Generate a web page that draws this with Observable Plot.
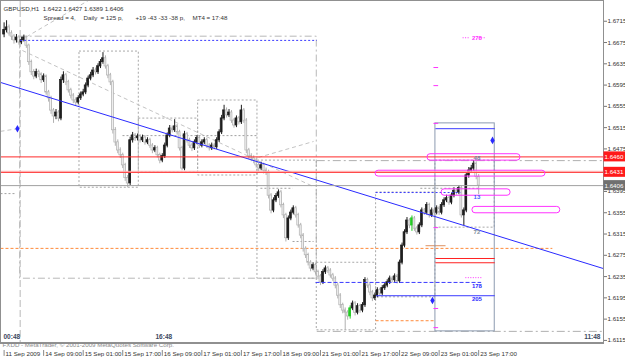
<!DOCTYPE html>
<html><head><meta charset="utf-8">
<script src="https://cdn.jsdelivr.net/npm/d3@7"></script>
<script src="https://cdn.jsdelivr.net/npm/@observablehq/plot@0.6"></script>
<style>html,body{margin:0;padding:0;background:#fff;} svg{display:block;font-family:"Liberation Sans",Arial,sans-serif;}</style>
</head><body><div id="chart"></div>
<script>
// GBPUSD H1 bars, 11 Sep 2009 17:00 .. 23 Sep 2009 17:00 (bar index 0..192)
const open = [1.6690,1.6698,1.6703,1.6692,1.6686,1.6679,1.6684,1.6675,1.6679,1.6684,
1.6669,1.6638,1.6619,1.6611,1.6619,1.6615,1.6604,1.6611,1.6581,1.6570,
1.6547,1.6536,1.6543,1.6532,1.6604,1.6613,1.6600,1.6585,1.6575,1.6566,
1.6562,1.6570,1.6577,1.6581,1.6594,1.6607,1.6613,1.6622,1.6619,1.6630,
1.6638,1.6645,1.6630,1.6613,1.6600,1.6510,1.6487,1.6472,1.6463,1.6444,
1.6420,1.6410,1.6491,1.6500,1.6495,1.6498,1.6491,1.6496,1.6487,1.6491,
1.6481,1.6472,1.6476,1.6463,1.6453,1.6461,1.6481,1.6500,1.6513,1.6510,
1.6517,1.6506,1.6476,1.6438,1.6502,1.6491,1.6481,1.6476,1.6487,1.6495,
1.6481,1.6487,1.6491,1.6481,1.6476,1.6481,1.6478,1.6491,1.6506,1.6532,
1.6547,1.6538,1.6543,1.6528,1.6519,1.6532,1.6525,1.6547,1.6528,1.6472,
1.6461,1.6457,1.6453,1.6444,1.6438,1.6444,1.6434,1.6431,1.6387,1.6359,
1.6378,1.6386,1.6393,1.6369,1.6350,1.6307,1.6344,1.6355,1.6363,1.6350,
1.6331,1.6312,1.6287,1.6275,1.6261,1.6250,1.6256,1.6243,1.6235,1.6224,
1.6243,1.6250,1.6246,1.6237,1.6231,1.6218,1.6199,1.6181,1.6171,1.6167,
1.6160,1.6175,1.6184,1.6167,1.6179,1.6171,1.6181,1.6228,1.6218,1.6205,
1.6194,1.6199,1.6209,1.6203,1.6213,1.6218,1.6224,1.6231,1.6228,1.6235,
1.6226,1.6261,1.6293,1.6318,1.6340,1.6331,1.6344,1.6325,1.6318,1.6331,
1.6359,1.6355,1.6369,1.6350,1.6359,1.6355,1.6363,1.6355,1.6369,1.6378,
1.6382,1.6374,1.6387,1.6396,1.6393,1.6401,1.6350,1.6359,1.6425,1.6434,
1.6438,1.6447,1.6422];
const high = [1.6712,1.6716,1.6708,1.6697,1.6690,1.6690,1.6688,1.6685,1.6689,1.6687,
1.6672,1.6642,1.6624,1.6625,1.6623,1.6618,1.6616,1.6614,1.6585,1.6574,
1.6551,1.6549,1.6547,1.6610,1.6620,1.6617,1.6604,1.6589,1.6579,1.6571,
1.6575,1.6582,1.6587,1.6599,1.6612,1.6619,1.6628,1.6627,1.6635,1.6643,
1.6656,1.6650,1.6634,1.6617,1.6604,1.6515,1.6492,1.6477,1.6467,1.6448,
1.6425,1.6497,1.6506,1.6504,1.6503,1.6502,1.6501,1.6500,1.6496,1.6495,
1.6485,1.6481,1.6480,1.6467,1.6466,1.6486,1.6505,1.6519,1.6518,1.6530,
1.6521,1.6510,1.6480,1.6508,1.6506,1.6495,1.6486,1.6492,1.6500,1.6499,
1.6492,1.6496,1.6495,1.6485,1.6486,1.6485,1.6496,1.6511,1.6538,1.6557,
1.6552,1.6549,1.6547,1.6532,1.6537,1.6536,1.6557,1.6551,1.6532,1.6476,
1.6466,1.6462,1.6457,1.6448,1.6450,1.6448,1.6439,1.6435,1.6391,1.6383,
1.6391,1.6398,1.6397,1.6373,1.6354,1.6349,1.6360,1.6368,1.6367,1.6354,
1.6335,1.6316,1.6291,1.6279,1.6265,1.6261,1.6260,1.6247,1.6239,1.6248,
1.6255,1.6254,1.6250,1.6241,1.6235,1.6222,1.6203,1.6185,1.6176,1.6171,
1.6180,1.6189,1.6188,1.6184,1.6183,1.6186,1.6233,1.6232,1.6222,1.6209,
1.6204,1.6214,1.6213,1.6218,1.6223,1.6229,1.6236,1.6235,1.6240,1.6239,
1.6266,1.6298,1.6323,1.6346,1.6344,1.6349,1.6348,1.6329,1.6336,1.6364,
1.6363,1.6374,1.6373,1.6364,1.6363,1.6368,1.6367,1.6374,1.6383,1.6388,
1.6386,1.6392,1.6402,1.6400,1.6406,1.6405,1.6364,1.6430,1.6440,1.6444,
1.6453,1.6451,1.6427];
const low = [1.6684,1.6693,1.6687,1.6679,1.6672,1.6674,1.6670,1.6671,1.6676,1.6664,
1.6632,1.6613,1.6605,1.6607,1.6609,1.6598,1.6600,1.6576,1.6563,1.6540,
1.6523,1.6530,1.6526,1.6528,1.6598,1.6594,1.6580,1.6569,1.6560,1.6556,
1.6558,1.6566,1.6573,1.6577,1.6590,1.6603,1.6609,1.6614,1.6615,1.6626,
1.6634,1.6625,1.6607,1.6594,1.6503,1.6480,1.6466,1.6457,1.6438,1.6414,
1.6402,1.6406,1.6486,1.6489,1.6490,1.6486,1.6487,1.6482,1.6483,1.6476,
1.6466,1.6468,1.6458,1.6447,1.6449,1.6457,1.6477,1.6496,1.6505,1.6506,
1.6501,1.6471,1.6434,1.6434,1.6486,1.6476,1.6470,1.6472,1.6483,1.6476,
1.6477,1.6483,1.6476,1.6471,1.6472,1.6473,1.6474,1.6487,1.6502,1.6528,
1.6533,1.6534,1.6523,1.6514,1.6515,1.6520,1.6521,1.6523,1.6466,1.6455,
1.6451,1.6447,1.6439,1.6432,1.6434,1.6428,1.6425,1.6381,1.6353,1.6355,
1.6374,1.6382,1.6364,1.6344,1.6300,1.6303,1.6340,1.6351,1.6345,1.6326,
1.6306,1.6281,1.6269,1.6255,1.6244,1.6246,1.6238,1.6229,1.6218,1.6220,
1.6239,1.6241,1.6232,1.6226,1.6212,1.6193,1.6175,1.6165,1.6134,1.6153,
1.6155,1.6171,1.6161,1.6163,1.6166,1.6167,1.6177,1.6213,1.6199,1.6188,
1.6190,1.6195,1.6198,1.6199,1.6209,1.6214,1.6220,1.6223,1.6224,1.6221,
1.6222,1.6257,1.6289,1.6314,1.6325,1.6320,1.6320,1.6313,1.6314,1.6327,
1.6350,1.6351,1.6345,1.6346,1.6350,1.6351,1.6350,1.6351,1.6365,1.6374,
1.6369,1.6370,1.6383,1.6388,1.6389,1.6345,1.6331,1.6355,1.6420,1.6429,
1.6433,1.6417,1.6389];
const close = [1.6698,1.6703,1.6692,1.6686,1.6679,1.6684,1.6675,1.6679,1.6684,1.6669,
1.6638,1.6619,1.6611,1.6619,1.6615,1.6604,1.6611,1.6581,1.6570,1.6547,
1.6536,1.6543,1.6532,1.6604,1.6613,1.6600,1.6585,1.6575,1.6566,1.6562,
1.6570,1.6577,1.6581,1.6594,1.6607,1.6613,1.6622,1.6619,1.6630,1.6638,
1.6645,1.6630,1.6613,1.6600,1.6510,1.6487,1.6472,1.6463,1.6444,1.6420,
1.6410,1.6491,1.6500,1.6495,1.6498,1.6491,1.6496,1.6487,1.6491,1.6481,
1.6472,1.6476,1.6463,1.6453,1.6461,1.6481,1.6500,1.6513,1.6510,1.6517,
1.6506,1.6476,1.6438,1.6502,1.6491,1.6481,1.6476,1.6487,1.6495,1.6481,
1.6487,1.6491,1.6481,1.6476,1.6481,1.6478,1.6491,1.6506,1.6532,1.6547,
1.6538,1.6543,1.6528,1.6519,1.6532,1.6525,1.6547,1.6528,1.6472,1.6461,
1.6457,1.6453,1.6444,1.6438,1.6444,1.6434,1.6431,1.6387,1.6359,1.6378,
1.6386,1.6393,1.6369,1.6350,1.6307,1.6344,1.6355,1.6363,1.6350,1.6331,
1.6312,1.6287,1.6275,1.6261,1.6250,1.6256,1.6243,1.6235,1.6224,1.6243,
1.6250,1.6246,1.6237,1.6231,1.6218,1.6199,1.6181,1.6171,1.6167,1.6160,
1.6175,1.6184,1.6167,1.6179,1.6171,1.6181,1.6228,1.6218,1.6205,1.6194,
1.6199,1.6209,1.6203,1.6213,1.6218,1.6224,1.6231,1.6228,1.6235,1.6226,
1.6261,1.6293,1.6318,1.6340,1.6331,1.6344,1.6325,1.6318,1.6331,1.6359,
1.6355,1.6369,1.6350,1.6359,1.6355,1.6363,1.6355,1.6369,1.6378,1.6382,
1.6374,1.6387,1.6396,1.6393,1.6401,1.6350,1.6359,1.6425,1.6434,1.6438,
1.6447,1.6422,1.6406];
const greenBars = [140, 165];

// axis ticks (1.6435 is hidden behind the 1.6431 price tag in the original)
const xTickIndex = [0,16,32,48,64,80,96,112,128,144,160,176,192];
const xTickLabels = ["11 Sep 2009","14 Sep 09:00","15 Sep 01:00","15 Sep 17:00","16 Sep 09:00","17 Sep 01:00","17 Sep 17:00","18 Sep 09:00","21 Sep 01:00","21 Sep 17:00","22 Sep 09:00","23 Sep 01:00","23 Sep 17:00"];
const yTicks = [1.6715,1.6675,1.6635,1.6595,1.6555,1.6515,1.6475,1.6395,1.6355,1.6315,1.6275,1.6235,1.6195,1.6155,1.6115];

// levels and objects (bar index, price)
const redLevels = [1.6460, 1.6431];
const bidPrice = 1.6406;
const trendLine = [{i:-1.456, p:1.6600}, {i:242.5, p:1.6250}];
const weekBox = [{i1:6.5, i2:126.5, p1:1.6231, p2:1.6686}];
const dayBoxes = [
  {i1:30.5, i2:54.5, p1:1.6402, p2:1.6658},
  {i1:54.5, i2:78.5, p1:1.6431, p2:1.6532},
  {i1:78.5, i2:102.5, p1:1.6425, p2:1.6566},
  {i1:102.5, i2:126.5, p1:1.6231, p2:1.6453},
  {i1:126.5, i2:150.5, p1:1.6134, p2:1.6261},
  {i1:150.5, i2:174.5, p1:1.6196, p2:1.6393},
  {i1:174.5, i2:198.5, p1:1.6327, p2:1.6453}
];
const diagLines = [
  {i1:7.4, p1:1.6660, i2:125.2, p2:1.6404},
  {i1:6.6, p1:1.6679, i2:34.1, p2:1.6754},
  {i1:102.9, p1:1.6459, i2:125.2, p2:1.6489},
  {i1:-1.46, p1:1.6508, i2:5.4, p2:1.6513}
];
const dottedGray = [
  {i1:47.9, i2:102.9, p:1.6500},
  {i1:103.7, i2:116.7, p:1.6401},
  {i1:116.7, i2:125.2, p:1.6301},
  {i1:168.4, i2:192.7, p:1.6401},
  {i1:-1.46, i2:4.6, p:1.6391}
];
const dashDotGray = [
  {i1:126.5, i2:242.5, p:1.6453},
  {i1:126.5, i2:242.0, p:1.6132}
];
const orangeDotted = [
  {i1:-1.46, i2:221.8, p:1.6288},
  {i1:150.3, i2:174.5, p:1.6152}
];
const orangeSolid = [{i1:170.5, i2:178.6, p:1.6293}];
const blueSolid = [
  {i1:174.5, i2:198.5, p:1.6513},
  {i1:150.5, i2:198.5, p:1.6199}
];
const blueDashed = [{i1:126.0, i2:193.0, p:1.6224}];
const blueDotted = [
  {i1:6.5, i2:126.5, p:1.6679},
  {i1:150.3, i2:184.6, p:1.6393}
];
const redShort = [
  {i1:174.5, i2:198.5, p:1.6269},
  {i1:174.5, i2:198.5, p:1.6261}
];
const rangeRect = [{i1:174.5, i2:198.5, p1:1.6132, p2:1.6523}];
const pills = [
  {i1:171.3, i2:208.9, p1:1.6453, p2:1.6465},
  {i1:150.3, i2:219.0, p1:1.6423, p2:1.6434},
  {i1:177.0, i2:204.9, p1:1.6387, p2:1.6399},
  {i1:189.5, i2:225.0, p1:1.6354, p2:1.6366}
];
const magentaTicks = [1.6628, 1.6594, 1.6523, 1.6327, 1.6175, 1.6139];
const magentaDotted = [
  {i1:186.6, i2:193.5, p:1.6233},
  {i1:185.5, i2:188.2, p:1.6684},
  {i1:192.0, i2:194.7, p:1.6684}
];
const diamonds = [{i:5.4, p:1.6513}, {i:173.3, p:1.6190}, {i:197.6, p:1.6491}];
const objLabels = [
  {i:191.3, p:1.6684, t:"278", c:"#ff33ff"},
  {i:191.3, p:1.6458, t:"48", c:"#7080a0"},
  {i:191.3, p:1.6385, t:"13", c:"#4060ff"},
  {i:191.3, p:1.6319, t:"72", c:"#8090a0"},
  {i:191.3, p:1.6218, t:"178", c:"#2a2aff"},
  {i:191.3, p:1.6193, t:"205", c:"#2a2aff"}
];
const timeLabels = [
  {anchor:"bottom-left", dx:3, t:"00:48", a:"start"},
  {anchor:"bottom-left", dx:155, t:"16:48", a:"start"},
  {anchor:"bottom-right", dx:-3, t:"11:48", a:"end"}
];
const priceTags = [
  {p:1.6460, t:"1.6460", c:"#ff1a1a"},
  {p:1.6431, t:"1.6431", c:"#ff1a1a"},
  {p:1.6406, t:"1.6406", c:"#707070"}
];
const infoLine1 = "GBPUSD,H1  1.6422 1.6427 1.6389 1.6406";
const infoLine2 = [
  {dx:43, t:"Spread = 4,"}, {dx:83, t:"Daily"}, {dx:100, t:"= 125 p,"},
  {dx:135, t:"+19 -43 -33 -38 p,"}, {dx:192, t:"MT4"}, {dx:206, t:"= 17:48"}
];
const caption = "FXDD - MetaTrader, © 2001-2009 MetaQuotes Software Corp.";

const bars = close.map((c, i) => ({i, o: open[i], h: high[i], l: low[i], c}));
const strokeOf = d => greenBars.includes(d.i) ? "#22cc22" : d.c >= d.o ? "#1e1e1e" : "#b0b0b0";
const fillOf = d => greenBars.includes(d.i) ? "#22cc22" : d.c >= d.o ? "#1e1e1e" : "#f2f2f2";
const seg = (data, opts) => Plot.link(data, {x1: "i1", x2: "i2", y1: "p", y2: "p", ...opts});
const fs = 6.2;
const tagH = 0.00094;

const chart = Plot.plot({
  width: 625, height: 361,
  marginLeft: 0, marginRight: 22, marginTop: 0, marginBottom: 18,
  x: {domain: [-1.456, 242.5], axis: null},
  y: {domain: [1.61092, 1.6754], axis: null},
  style: {fontFamily: "Liberation Sans, Arial, sans-serif", fontSize: fs + "px", background: "#fff"},
  marks: [
    // weekly and daily boxes
    Plot.rect(weekBox, {x1:"i1", x2:"i2", y1:"p1", y2:"p2", fill:"none", stroke:"#b8b8b8", strokeDasharray:"7,3,2,3"}),
    Plot.ruleX([6.5], {stroke:"#b8b8b8", strokeDasharray:"7,3"}),
    Plot.rect(dayBoxes, {x1:"i1", x2:"i2", y1:"p1", y2:"p2", fill:"none", stroke:"#a8a8a8", strokeDasharray:"2,2"}),
    Plot.link(diagLines, {x1:"i1", x2:"i2", y1:"p1", y2:"p2", stroke:"#c4c4c4", strokeDasharray:"4,3"}),
    seg(dottedGray, {stroke:"#a0a0a0", strokeDasharray:"2,2"}),
    seg(dashDotGray, {stroke:"#b0b0b0", strokeDasharray:"8,3,2,3"}),
    seg(orangeDotted, {stroke:"#ff8a3a", strokeDasharray:"3,2"}),
    seg(orangeSolid, {stroke:"#dd9060"}),
    Plot.rect(rangeRect, {x1:"i1", x2:"i2", y1:"p1", y2:"p2", fill:"none", stroke:"#8c9bb0"}),
    // candles
    Plot.ruleX(bars, {x:"i", y1:"l", y2:"h", stroke: strokeOf, strokeWidth: 1}),
    Plot.rect(bars, {x1: d => d.i - 0.38, x2: d => d.i + 0.38, y1: d => Math.min(d.o, d.c), y2: d => Math.max(d.o, d.c) + 0.00004, fill: fillOf, stroke: strokeOf, strokeWidth: 0.7}),
    // lines
    Plot.line(trendLine, {x:"i", y:"p", stroke:"#2a2aff", strokeWidth: 1}),
    Plot.ruleY([bidPrice], {stroke:"#a0a0a0"}),
    Plot.ruleY([redLevels[0]], {stroke:"#ff2a2a"}),
    Plot.ruleY([redLevels[1]], {stroke:"#ff4a4a", strokeWidth: 1.2}),
    Plot.ruleY([redLevels[1] + 0.00019], {stroke:"#ffaaaa"}),
    seg(blueSolid, {stroke:"#3a3aff"}),
    seg(blueDashed, {stroke:"#3a3aff", strokeDasharray:"4,2"}),
    seg(blueDotted, {stroke:"#3a3aff", strokeDasharray:"2,2"}),
    seg(redShort, {stroke:"#ff2020"}),
    Plot.rect(pills, {x1:"i1", x2:"i2", y1:"p1", y2:"p2", fill:"none", stroke:"#ff33ff", rx: 3}),
    Plot.link(magentaTicks, {x1: 173.7, x2: 175.6, y1: d => d, y2: d => d, stroke:"#ff33ff"}),
    seg(magentaDotted, {stroke:"#ff33ff", strokeDasharray:"1,1.5"}),
    Plot.dot(diamonds, {x:"i", y:"p", symbol:"diamond", r: 2.3, fill:"#2a2aff"}),
    Plot.text(objLabels, {x:"i", y:"p", text:"t", fill:"c", fontSize: 6, fontWeight: "bold"}),
    ...timeLabels.map(d => Plot.text([d.t], {frameAnchor: d.anchor, dx: d.dx, dy: -5, textAnchor: d.a, fill:"#3c4860", fontWeight:"bold", fontSize: 6.5})),
    // frame
    Plot.frame({stroke:"#909090"}),
    Plot.ruleY([1.61092], {stroke:"#909090", strokeWidth: 2, dy: -0.5}),
    // axes
    Plot.axisY({anchor:"right", ticks: yTicks, tickFormat: d => d.toFixed(4), tickSize: 3, tickPadding: 1, fill:"#333", stroke:"#777", fontSize: fs}),
    Plot.axisX({anchor:"bottom", ticks: xTickIndex, tickFormat: d => xTickLabels[xTickIndex.indexOf(d)], tickSize: 0, tickPadding: 8.5, textAnchor:"start", dx: 1.5, fill:"#333", fontSize: fs}),
    Plot.ruleX(xTickIndex, {y1: 1.6096, y2: 1.6085, stroke:"#888"}),
    // price tags on right scale
    Plot.rect(priceTags, {x1: 242.7, x2: 251.7, y1: d => d.p - tagH, y2: d => d.p + tagH, fill:"c"}),
    Plot.text(priceTags, {x: 242.9, y:"p", text:"t", fill:"white", textAnchor:"start", fontSize: fs}),
    // info text
    Plot.text([infoLine1], {frameAnchor:"top-left", dx: 3, dy: 6, textAnchor:"start", fill:"#333", fontSize: fs}),
    ...infoLine2.map(d => Plot.text([d.t], {frameAnchor:"top-left", dx: d.dx, dy: 15, textAnchor:"start", fill:"#333", fontSize: fs})),
    Plot.text([caption], {frameAnchor:"bottom-left", dx: 2, dy: 3.5, textAnchor:"start", fill:"#8a8a8a", fontSize: fs})
  ]
});
document.getElementById("chart").appendChild(chart);
</script>
</body></html>
